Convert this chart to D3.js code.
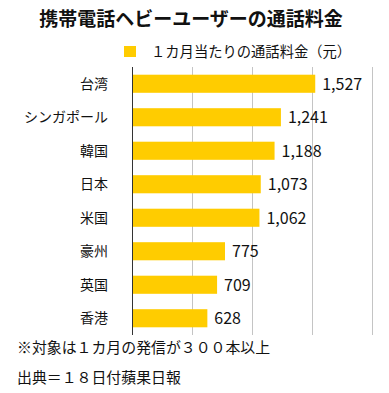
<!DOCTYPE html>
<html>
<head>
<meta charset="utf-8">
<script src="https://cdn.jsdelivr.net/npm/d3@7"></script>
<style>
  body { margin: 0; background: #fff; }
  svg { display: block; font-family: "Noto Sans CJK JP", sans-serif; }
</style>
</head>
<body>
<script>
// chart data
var countries = ["台湾", "シンガポール", "韓国", "日本", "米国", "豪州", "英国", "香港"];
var charges = [1527, 1241, 1188, 1073, 1062, 775, 709, 628];
var gridTicks = [0, 500, 1000, 1500, 2000];
var titleText = "携帯電話ヘビーユーザーの通話料金";
var legendText = "１カ月当たりの通話料金（元）";
var notes = ["※対象は１カ月の発信が３００本以上", "出典＝１８日付蘋果日報"];

var W = 389, H = 393;
var margin = { top: 67, left: 132, right: 17, bottom: 58 };
var barColor = "#ffcc00";

var svg = d3.select("body").append("svg")
    .attr("width", W)
    .attr("height", H);

var x = d3.scaleLinear()
    .domain([0, 2000])
    .range([margin.left, W - margin.right]);

var y = d3.scaleBand()
    .domain(countries)
    .range([margin.top, H - margin.bottom])
    .paddingInner(0.46)
    .paddingOuter(0.23);

// title
svg.append("text")
    .attr("x", 191)
    .attr("y", 26)
    .attr("text-anchor", "middle")
    .style("font-size", "19px")
    .style("font-weight", "bold")
    .style("fill", "#111")
    .text(titleText);

// legend
svg.append("rect")
    .attr("x", 124).attr("y", 46)
    .attr("width", 12).attr("height", 11)
    .attr("fill", barColor);
svg.append("text")
    .attr("x", 151)
    .attr("y", 57)
    .style("font-size", "14.3px")
    .style("fill", "#111")
    .text(legendText);

// grid lines
svg.append("g")
    .selectAll("line")
    .data(gridTicks.slice(1))
    .enter().append("line")
    .attr("x1", function (d) { return x(d) + 0.5; })
    .attr("x2", function (d) { return x(d) + 0.5; })
    .attr("y1", margin.top)
    .attr("y2", H - margin.bottom)
    .attr("stroke", "#c4c4c4")
    .attr("stroke-width", 1);

// bars
var rows = svg.append("g")
    .selectAll("g")
    .data(countries)
    .enter().append("g");

rows.append("rect")
    .attr("x", x(0) + 1)
    .attr("y", function (d) { return y(d); })
    .attr("width", function (d, i) { return x(charges[i]) - x(0) - 1; })
    .attr("height", y.bandwidth())
    .attr("fill", barColor);

rows.append("text")
    .attr("x", function (d, i) { return x(charges[i]) + 7; })
    .attr("y", function (d) { return y(d) + y.bandwidth() / 2; })
    .attr("dy", "0.36em")
    .style("font-size", "16px")
    .style("fill", "#111")
    .text(function (d, i) { return d3.format(",")(charges[i]); });

// category labels
rows.append("text")
    .attr("x", 108)
    .attr("y", function (d) { return y(d) + y.bandwidth() / 2; })
    .attr("dy", "0.36em")
    .attr("text-anchor", "end")
    .style("font-size", "14px")
    .style("fill", "#111")
    .text(function (d) { return d; });

// axis line
svg.append("line")
    .attr("x1", x(0) + 0.5).attr("x2", x(0) + 0.5)
    .attr("y1", margin.top)
    .attr("y2", H - margin.bottom)
    .attr("stroke", "#333")
    .attr("stroke-width", 1);

// footnotes
svg.append("g")
    .selectAll("text")
    .data(notes)
    .enter().append("text")
    .attr("x", 17)
    .attr("y", function (d, i) { return 353 + i * 30; })
    .style("font-size", "14.9px")
    .style("fill", "#111")
    .text(function (d) { return d; });
</script>
</body>
</html>
